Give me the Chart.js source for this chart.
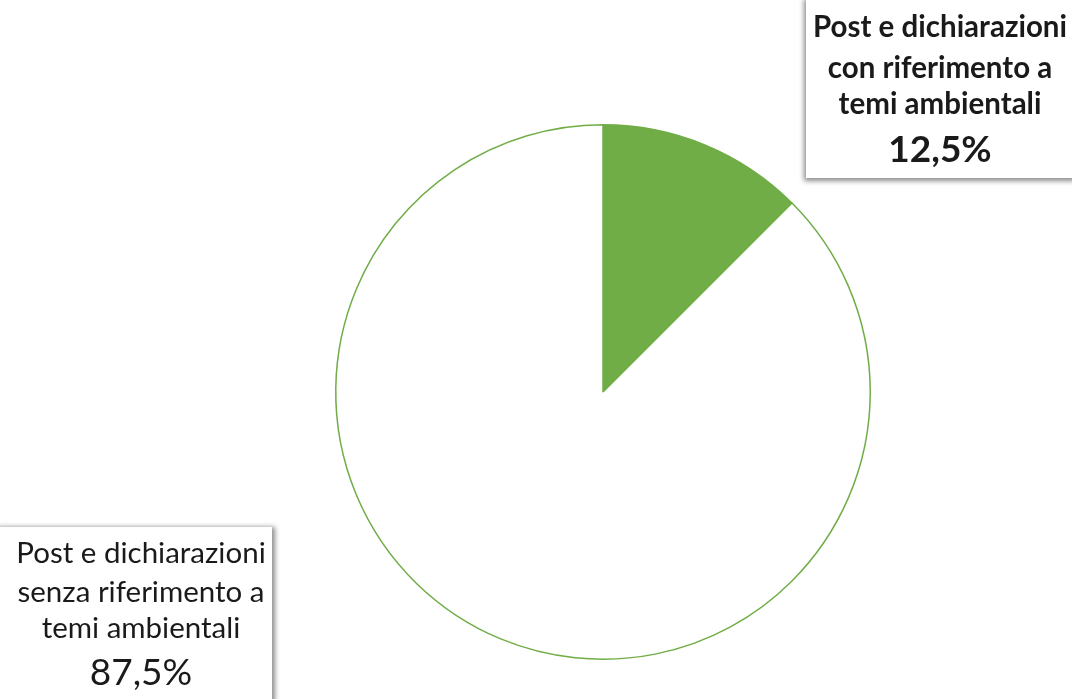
<!DOCTYPE html>
<html>
<head>
<meta charset="utf-8">
<title>Post e dichiarazioni</title>
<script src="https://cdn.jsdelivr.net/npm/chart.js@4.4.1/dist/chart.umd.min.js"></script>
<style>
  html, body { margin: 0; padding: 0; background: #fff; }
  #wrap { width: 1072px; height: 699px; position: relative; }
</style>
</head>
<body>
<div id="wrap"><canvas id="chart"></canvas></div>
<script>
// data
var categories = [
  ['Post e dichiarazioni', 'con riferimento a', 'temi ambientali'],
  ['Post e dichiarazioni', 'senza riferimento a', 'temi ambientali']
];
var values = [12.5, 87.5];
var colors = ['#70AD47', '#FFFFFF'];

// label boxes (callout style), one per slice
var boxes = [
  { x: 806, y: -4, w: 272, h: 182, cx: 940, lines: [27, 68, 104], pctY: 150, bold: true, shadow: 'bottom' },
  { x: -6, y: 527, w: 278, h: 180, cx: 141, lines: [553, 592, 628], pctY: 673, bold: false, shadow: 'right' }
];

function fmtPct(v) {
  return v.toFixed(1).replace('.', ',') + '%';
}

var calloutPlugin = {
  id: 'callouts',
  afterDraw: function(chart) {
    var ctx = chart.ctx;
    var data = chart.data.datasets[0].data;
    for (var i = 0; i < boxes.length; i++) {
      var b = boxes[i];
      ctx.save();
      ctx.shadowColor = 'rgba(0,0,0,0.45)';
      ctx.shadowBlur = 5;
      if (b.shadow == 'bottom') { ctx.shadowOffsetX = -2; ctx.shadowOffsetY = 3; }
      else { ctx.shadowOffsetX = 3; ctx.shadowOffsetY = 0; }
      ctx.fillStyle = '#fff';
      ctx.fillRect(b.x, b.y, b.w, b.h);
      ctx.restore();

      ctx.save();
      ctx.fillStyle = '#1a1a1a';
      ctx.textAlign = 'center';
      ctx.textBaseline = 'middle';
      var weight = b.bold ? 'bold ' : '';
      ctx.font = weight + '29.5px Lato, "Open Sans", sans-serif';
      var lbl = chart.data.labels[i];
      for (var j = 0; j < lbl.length; j++) {
        ctx.fillText(lbl[j], b.cx, b.lines[j], 254);
      }
      ctx.font = weight + '37px Lato, "Open Sans", sans-serif';
      ctx.fillText(fmtPct(data[i]), b.cx, b.pctY);
      ctx.restore();
    }
  }
};

new Chart(document.getElementById('chart'), {
  type: 'pie',
  data: {
    labels: categories,
    datasets: [{
      data: values,
      backgroundColor: colors,
      borderColor: '#70AD47',
      borderWidth: 1.5
    }]
  },
  options: {
    responsive: true,
    maintainAspectRatio: false,
    animation: false,
    layout: { padding: { top: 124, bottom: 39, left: 335, right: 201 } },
    plugins: {
      legend: { display: false },
      tooltip: { enabled: false }
    }
  },
  plugins: [calloutPlugin]
});
</script>
</body>
</html>
